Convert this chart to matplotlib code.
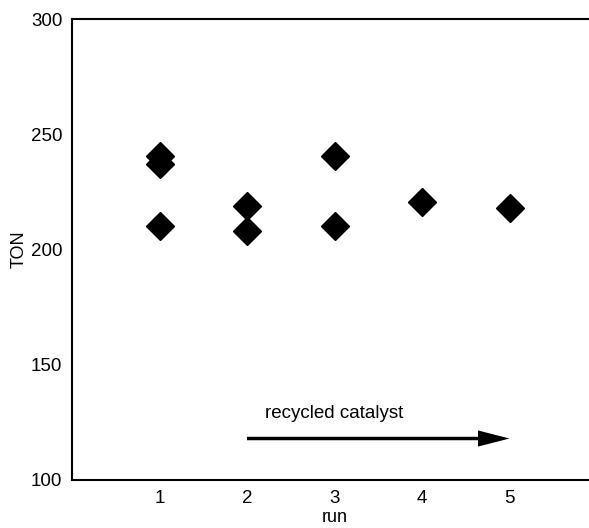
import matplotlib
matplotlib.use('Agg')
from matplotlib import pyplot as plt

plt.rcParams['font.family'] = ['Liberation Sans', 'DejaVu Sans']

# TON per run
run = [1, 1, 1, 2, 2, 3, 3, 4, 5]
ton = [240.5, 237, 210, 219, 208, 240.5, 210, 220.5, 218]

arrow_start = (2, 118)
arrow_end = (5, 118)
arrow_text = 'recycled catalyst'

fig = plt.figure(figsize=(5.89, 5.28), dpi=100)
ax = fig.add_axes([72/589, 48/528, 525/589, 461/528])

ax.plot(run, ton, linestyle='none', marker='D', markersize=14.3, color='black')

# arrow drawn in data units (x: run, y: TON)
ax.arrow(arrow_start[0], arrow_start[1],
         arrow_end[0] - arrow_start[0], arrow_end[1] - arrow_start[1],
         width=1.5, head_width=7, head_length=0.36,
         length_includes_head=True, color='black', lw=0)
ax.text(2.21, 125, arrow_text, fontsize=13.5, va='bottom', ha='left')

ax.set_xlim(0, 6)
ax.set_ylim(100, 300)
ax.set_xticks([1, 2, 3, 4, 5])
ax.set_yticks([100, 150, 200, 250, 300])
ax.tick_params(axis='both', length=0, labelsize=13.5, pad=7)
ax.set_xticks([2, 5], minor=True)
ax.tick_params(axis='x', which='minor', direction='in', length=4, color='#999999', width=0.8)
ax.set_xlabel('run', fontsize=13, labelpad=2)
ax.set_ylabel('TON', fontsize=13, labelpad=2)
ax.spines['right'].set_visible(False)
for s in ax.spines.values():
    s.set_linewidth(1.5)

fig.savefig('out.png', dpi=100)
